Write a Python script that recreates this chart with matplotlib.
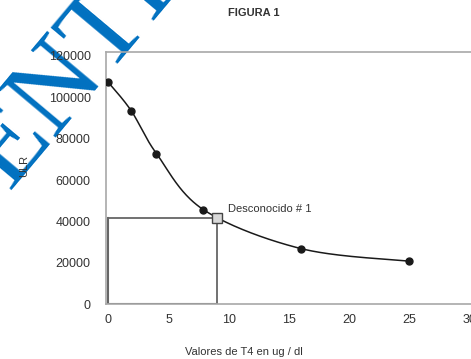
import numpy as np
import matplotlib
matplotlib.use("Agg")
import matplotlib.pyplot as plt

# ---- data ----
t4_values = [0, 1.9, 4.0, 7.9, 16.0, 25.0]          # ug/dl
ulr_values = [107200, 93500, 72800, 45700, 26900, 20800]
unknown_x = [9.05]
unknown_y = [41800]
unknown_label = "Desconocido # 1"
x_ticks = [0, 5, 10, 15, 20, 25, 30]
y_ticks = [0, 20000, 40000, 60000, 80000, 100000, 120000]

W, H = 471, 359
fig = plt.figure(figsize=(W / 100, H / 100), dpi=100)
plt.rcParams['font.family'] = ['Liberation Sans', 'DejaVu Sans']

ax = fig.add_axes([106 / W, 1 - 304.3 / H, 375.6 / W, 252 / H])
ax.patch.set_alpha(0)
ax.set_xlim(-0.19, 31)
ax.set_ylim(0, 121700)


def smooth_curve(xs, ys, n=60):
    # Catmull-Rom style smoothing between the data points (drawing only)
    xs = np.asarray(xs, float)
    ys = np.asarray(ys, float)
    px, py = [], []
    for i in range(len(xs) - 1):
        x0, y0 = (xs[i - 1], ys[i - 1]) if i > 0 else (xs[i], ys[i])
        x1, y1 = xs[i], ys[i]
        x2, y2 = xs[i + 1], ys[i + 1]
        x3, y3 = (xs[i + 2], ys[i + 2]) if i + 2 < len(xs) else (x2, y2)
        c1x = x1 + (x2 - x0) / 6
        c1y = y1 + (y2 - y0) / 6
        c2x = x2 - (x3 - x1) / 6
        c2y = y2 - (y3 - y1) / 6
        t = np.linspace(0, 1, n)
        bx = (1 - t) ** 3 * x1 + 3 * (1 - t) ** 2 * t * c1x + 3 * (1 - t) * t ** 2 * c2x + t ** 3 * x2
        by = (1 - t) ** 3 * y1 + 3 * (1 - t) ** 2 * t * c1y + 3 * (1 - t) * t ** 2 * c2y + t ** 3 * y2
        px.extend(bx)
        py.extend(by)
    return np.array(px), np.array(py)


sx, sy = smooth_curve(t4_values, ulr_values)
ax.plot(sx, sy, color='#1a1a1a', lw=1.1, zorder=3)
ax.plot(t4_values, ulr_values, 'o', color='#1a1a1a', ms=5, zorder=4)

# reading lines for the unknown
ax.plot([0, unknown_x[0], unknown_x[0]], [unknown_y[0], unknown_y[0], 0],
        color='#666666', lw=1.3, zorder=2, solid_joinstyle='miter')
ax.plot([0, 0, unknown_x[0]], [unknown_y[0], 0, 0], color='#666666', lw=1.5, zorder=2)
ax.plot(unknown_x, unknown_y, 's', ms=6.5, mfc='#d9d9d9', mec='#444444', mew=1.0, zorder=5)
ax.annotate(unknown_label, (unknown_x[0], unknown_y[0]), xytext=(8, 6),
            textcoords='offset points', fontsize=8, color='#333333', va='center')

for s in ['left', 'top', 'bottom', 'right']:
    ax.spines[s].set_color('#a8a8a8')
    ax.spines[s].set_linewidth(1.2)

ax.set_xticks(x_ticks)
ax.set_yticks(y_ticks)
ax.set_xticklabels([str(v) for v in x_ticks])
ax.set_yticklabels([str(v) for v in y_ticks])
ax.tick_params(length=0, labelsize=9, labelcolor='#333333')
ax.tick_params(axis='x', pad=7)
ax.tick_params(axis='y', pad=11)

fig.text(254 / W, 1 - 13.5 / H, "FIGURA 1", ha='center', va='center',
         fontsize=8, fontweight='bold', color='#333333')
fig.text(244 / W, 1 - 352 / H, "Valores de T4 en ug / dl", ha='center', va='center',
         fontsize=8, color='#333333')
fig.text(24 / W, 1 - 166 / H, "ULR", ha='center', va='center', rotation=90,
         fontsize=8, color='#333333', zorder=5)

# watermark (behind the chart)
wx, wy = 9 / W, 1 - 190 / H
fig.text(wx, wy, "ENTIAL", rotation=50, rotation_mode='anchor', ha='left',
         va='baseline', fontsize=82, color='#0070C0', family='Liberation Serif', zorder=-1)
fig.text(wx, wy, "CONFID", rotation=50, rotation_mode='anchor', ha='right',
         va='baseline', fontsize=82, color='#0070C0', family='Liberation Serif', zorder=-1)

fig.savefig("out.png", dpi=100)
